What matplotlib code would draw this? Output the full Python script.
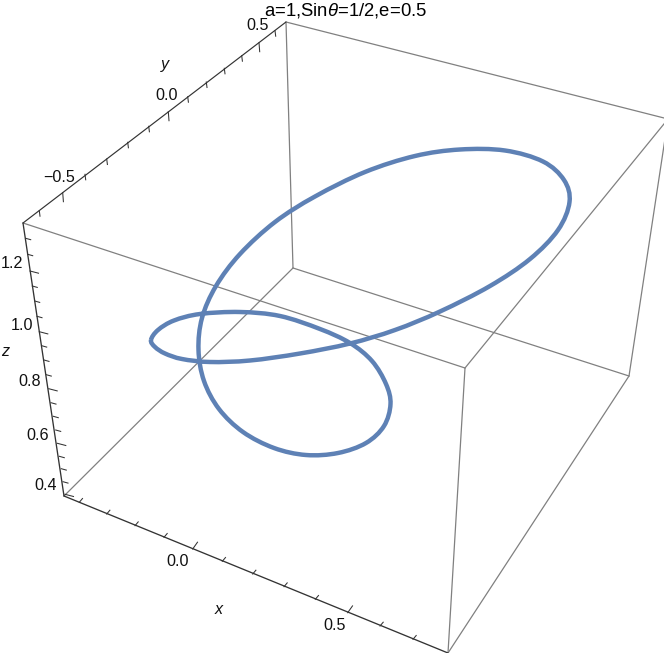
import matplotlib

matplotlib.use("Agg")
import matplotlib.pyplot as plt
from matplotlib.patches import PathPatch
from matplotlib.path import Path

plt.rcParams["font.family"] = ["Liberation Sans", "DejaVu Sans"]
plt.rcParams["mathtext.fontset"] = "custom"
plt.rcParams["mathtext.it"] = "Liberation Sans:italic"
plt.rcParams["mathtext.rm"] = "Liberation Sans"

TITLE = r"a=1,Sin$\theta$=1/2,e=0.5"

# The picture is a perspective view, so everything is read in projected image units.
curve_x = [
    151, 158, 174, 200, 240, 280, 320, 350, 372, 386, 390.5, 384, 366, 338, 306, 274, 243, 219, 204, 198.5,
    202, 216, 240, 275, 315, 365, 415, 460, 505, 543, 564, 569.5, 558, 530, 490, 440, 395, 350, 300, 250,
    210, 182, 165, 155, 151,
]
curve_y = [
    340, 330, 320.5, 314, 312, 316, 329, 343, 361, 384, 404, 426, 443, 453, 455, 448, 432, 409, 381, 350,
    318, 286, 254, 222, 196.5, 172, 156, 149.5, 150.5, 161.5, 180, 202, 230, 259, 286, 311.5, 330, 343.5, 353.5, 360.5,
    362, 359, 353.5, 347, 340,
]

# box corners
corner_a = (286, 22)
corner_b = (23, 223)
corner_c = (668, 119)
corner_d = (465, 368)
corner_e = (64, 496)
corner_f = (448, 653)
corner_g = (293, 268)
corner_h = (629, 376)

# tick marks: foot on the axis line, is_major for the longer ones
y_tick_x = [39.3, 62.7, 85, 106.7, 127.7, 148.7, 168.3, 187.7, 206.3, 224.3, 241.7, 259, 275]
y_tick_y = [210.7, 192.7, 174.3, 159, 142.3, 126.3, 111.7, 96.7, 82, 68.3, 55.7, 42.7, 30.7]
y_tick_major = [0, 1, 0, 0, 0, 0, 1, 0, 0, 0, 0, 1, 0]

z_tick_x = [25.7, 27.7, 30, 32.3, 34.7, 37, 39.3, 41.7, 44, 46.3, 48.7, 51, 53.3, 55.7, 57.3, 59.3, 61.3, 63, 65]
z_tick_y = [238.3, 254.3, 271, 286, 301, 316.3, 331.7, 345.7, 360, 374.7, 388.7, 402.7, 416.3, 430, 443.3, 456.3, 468.7, 481.7, 494.3]
z_tick_major = [0, 0, 1, 0, 0, 0, 1, 0, 0, 0, 1, 0, 0, 0, 1, 0, 0, 0, 1]

x_tick_x = [79.3, 106.7, 135, 164, 192.7, 222.3, 252.7, 284, 315.3, 347.7, 380, 413]
x_tick_y = [502.3, 514, 525.7, 537.3, 549, 561.3, 574, 586.7, 599.3, 612.7, 626, 639.3]
x_tick_major = [0, 0, 0, 0, 1, 0, 0, 0, 0, 1, 0, 0]

y_labels = ["\u22120.5", "0.0", "0.5"]
y_label_x = [59, 167, 258]
y_label_y = [177, 96, 26]

z_labels = ["1.2", "1.0", "0.8", "0.6", "0.4"]
z_label_x = [12, 22, 30, 38, 46]
z_label_y = [264, 325, 382, 435, 486]

x_labels = ["0.0", "0.5"]
x_label_x = [178, 335]
x_label_y = [562, 625]

GRAY = "#808080"
DARK = "#333333"
BLUE = "#5E81B5"


def draw_edge(ax, p, q, color, lw, zorder=1):
    ax.plot([p[0], q[0]], [p[1], q[1]], color=color, lw=lw, zorder=zorder, solid_capstyle="round")


def draw_ticks(ax, xs, ys, majors, major_d, minor_d):
    for x, y, major in zip(xs, ys, majors):
        dx, dy = major_d if major else minor_d
        ax.plot([x, x + dx], [y, y + dy], color=DARK, lw=0.75, zorder=3)


def closed_spline(xs, ys):
    # Bezier path through the read points, the curve is closed so the ends wrap round.
    pts = list(zip(xs[:-1], ys[:-1]))
    n = len(pts)
    verts = [pts[0]]
    codes = [Path.MOVETO]
    for i in range(n):
        p0, p1, p2, p3 = pts[i - 1], pts[i], pts[(i + 1) % n], pts[(i + 2) % n]
        c1 = (p1[0] + (p2[0] - p0[0]) / 6, p1[1] + (p2[1] - p0[1]) / 6)
        c2 = (p2[0] - (p3[0] - p1[0]) / 6, p2[1] - (p3[1] - p1[1]) / 6)
        verts += [c1, c2, p2]
        codes += [Path.CURVE4, Path.CURVE4, Path.CURVE4]
    return Path(verts, codes)


def main() -> None:
    fig = plt.figure(figsize=(6.64, 6.53), dpi=100)
    ax = fig.add_axes([0, 0, 1, 1])
    ax.set_xlim(0, 664)
    ax.set_ylim(653, 0)
    ax.axis("off")

    # back and side edges of the box
    for p, q in [
        (corner_a, corner_c),
        (corner_a, corner_g),
        (corner_g, corner_e),
        (corner_g, corner_h),
        (corner_f, corner_h),
        (corner_c, corner_h),
        (corner_b, corner_d),
        (corner_c, corner_d),
        (corner_d, corner_f),
    ]:
        draw_edge(ax, p, q, GRAY, 0.9)

    ax.add_patch(PathPatch(closed_spline(curve_x, curve_y), facecolor="none", edgecolor=BLUE, lw=3.2, zorder=2))

    # the three labelled axes
    draw_edge(ax, corner_a, corner_b, DARK, 0.85, zorder=3)
    draw_edge(ax, corner_b, corner_e, DARK, 0.95, zorder=3)
    draw_edge(ax, corner_e, corner_f, DARK, 0.95, zorder=3)

    draw_ticks(ax, y_tick_x, y_tick_y, y_tick_major, (0.7, 9), (0.7, 5.5))
    draw_ticks(ax, z_tick_x, z_tick_y, z_tick_major, (8.5, 2.2), (5, 1.4))
    draw_ticks(ax, x_tick_x, x_tick_y, x_tick_major, (4.8, -6.8), (3.2, -3.8))

    for labels, xs, ys in [
        (y_labels, y_label_x, y_label_y),
        (z_labels, z_label_x, z_label_y),
        (x_labels, x_label_x, x_label_y),
    ]:
        for text, x, y in zip(labels, xs, ys):
            ax.text(x, y, text, fontsize=11.6, ha="center", va="center", color="#111111")

    ax.text(219, 610, "x", fontsize=11.6, style="italic", ha="center", va="center", color="#111111")
    ax.text(165, 65, "y", fontsize=11.6, style="italic", ha="center", va="center", color="#111111")
    ax.text(5, 352, "z", fontsize=11.6, style="italic", ha="center", va="center", color="#111111")

    ax.text(346, 10, TITLE, fontsize=13.3, ha="center", va="center", color="black")

    fig.savefig("out.png", dpi=100)


if __name__ == "__main__":
    main()
